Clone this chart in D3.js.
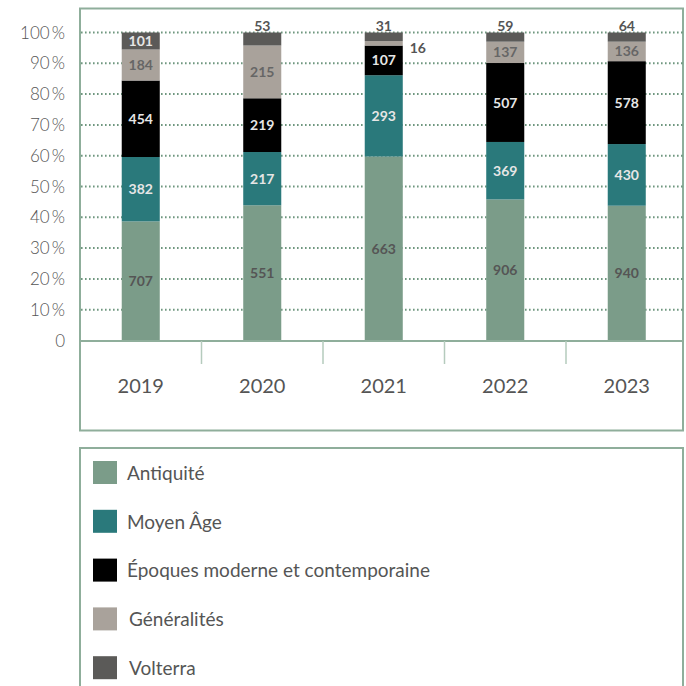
<!DOCTYPE html>
<html>
<head>
<meta charset="utf-8">
<script src="https://cdn.jsdelivr.net/npm/d3@7"></script>
<style>
  body { margin: 0; background: #fff; }
  text { font-family: Lato, "Open Sans", sans-serif; }
</style>
</head>
<body>
<script>
// data
var years = ["2019", "2020", "2021", "2022", "2023"];
var series = ["Antiquité", "Moyen Âge", "Époques moderne et contemporaine", "Généralités", "Volterra"];
var antiquite = [707, 551, 663, 906, 940];
var moyenAge = [382, 217, 293, 369, 430];
var epoques = [454, 219, 107, 507, 578];
var generalites = [184, 215, 16, 137, 136];
var volterra = [101, 53, 31, 59, 64];
var yTicks = [0, 10, 20, 30, 40, 50, 60, 70, 80, 90, 100];

var colors = ["#7b9c89", "#2a797b", "#000000", "#a9a29b", "#5b5a58"];
var labelColors = ["#555555", "#e6e6e6", "#e6e6e6", "#666666", "#e6e6e6"];
var frameColor = "#8fae9b";

var width = 686, height = 686;

var svg = d3.select("body").append("svg")
    .attr("width", width)
    .attr("height", height);

var values = [antiquite, moyenAge, epoques, generalites, volterra];
var rows = years.map(function(y, i) {
    var r = {year: y};
    series.forEach(function(s, j) { r[s] = values[j][i]; });
    return r;
});

var stacked = d3.stack().keys(series).offset(d3.stackOffsetExpand)(rows);

var x = d3.scaleBand()
    .domain(years)
    .range([80, 687.5])
    .paddingInner(0.687)
    .paddingOuter(0.3435);

var y = d3.scaleLinear()
    .domain([0, 1])
    .range([340.5, 32.5]);

// chart frame
svg.append("rect")
    .attr("x", 80).attr("y", 8.5)
    .attr("width", 603).attr("height", 422)
    .attr("fill", "none")
    .attr("stroke", frameColor)
    .attr("stroke-width", 2);

// dotted gridlines
svg.append("g")
    .selectAll("line")
    .data(yTicks.filter(function(t) { return t > 0; }))
    .enter().append("line")
    .attr("x1", 81).attr("x2", 683)
    .attr("y1", function(d) { return y(d / 100); })
    .attr("y2", function(d) { return y(d / 100); })
    .attr("stroke", "#6f977f")
    .attr("stroke-width", 2)
    .attr("stroke-dasharray", "1.6,2.4");

// y labels
svg.append("g")
    .selectAll("text")
    .data(yTicks)
    .enter().append("text")
    .attr("x", 65)
    .attr("y", function(d) { return y(d / 100); })
    .attr("dy", "0.36em")
    .attr("text-anchor", "end")
    .attr("font-size", 17)
    .attr("font-weight", 300)
    .attr("fill", "#555")
    .text(function(d) { return d === 0 ? "0" : d + "\u2009%"; });

// bars
var layer = svg.append("g")
    .selectAll("g")
    .data(stacked)
    .enter().append("g")
    .attr("fill", function(d, i) { return colors[i]; });

layer.selectAll("rect")
    .data(function(d) { return d; })
    .enter().append("rect")
    .attr("x", function(d) { return x(d.data.year); })
    .attr("width", x.bandwidth())
    .attr("y", function(d) { return y(d[1]); })
    .attr("height", function(d) { return y(d[0]) - y(d[1]); });

// x axis line and separators
svg.append("line")
    .attr("x1", 80).attr("x2", 683)
    .attr("y1", 341).attr("y2", 341)
    .attr("stroke", frameColor)
    .attr("stroke-width", 2);

var gap = (x.step() - x.bandwidth()) / 2;
svg.append("g")
    .selectAll("line")
    .data(years.slice(1))
    .enter().append("line")
    .attr("x1", function(d) { return x(d) - gap; })
    .attr("x2", function(d) { return x(d) - gap; })
    .attr("y1", 341).attr("y2", 364)
    .attr("stroke", "#b5cbbd")
    .attr("stroke-width", 1.5);

svg.append("g")
    .selectAll("text")
    .data(years)
    .enter().append("text")
    .attr("x", function(d) { return x(d) + x.bandwidth() / 2; })
    .attr("y", 393)
    .attr("text-anchor", "middle")
    .attr("font-size", 20)
    .attr("fill", "#555")
    .text(function(d) { return d; });

// value labels
stacked.forEach(function(s, i) {
    s.forEach(function(d) {
        var val = d.data[s.key];
        var h = y(d[0]) - y(d[1]);
        var cx = x(d.data.year) + x.bandwidth() / 2;
        var t = svg.append("text")
            .attr("font-size", 14)
            .attr("font-weight", "bold")
            .attr("dy", "0.36em")
            .text(val);
        if (h >= 15) {
            t.attr("x", cx).attr("y", (y(d[0]) + y(d[1])) / 2)
             .attr("text-anchor", "middle")
             .attr("fill", labelColors[i]);
        } else if (i === series.length - 1) {
            t.attr("x", cx).attr("y", y(d[1]) - 7)
             .attr("text-anchor", "middle")
             .attr("fill", "#555");
        } else {
            t.attr("x", x(d.data.year) + x.bandwidth() + 7).attr("y", (y(d[0]) + y(d[1])) / 2 + 5)
             .attr("text-anchor", "start")
             .attr("fill", "#555");
        }
    });
});

// legend
svg.append("rect")
    .attr("x", 80).attr("y", 448)
    .attr("width", 603).attr("height", 260)
    .attr("fill", "none")
    .attr("stroke", frameColor)
    .attr("stroke-width", 2);

var legend = svg.append("g")
    .selectAll("g")
    .data(series)
    .enter().append("g")
    .attr("transform", function(d, i) { return "translate(93," + (461 + i * 48.8) + ")"; });

legend.append("rect")
    .attr("width", 24).attr("height", 23)
    .attr("fill", function(d, i) { return colors[i]; });

legend.append("text")
    .attr("x", function(d, i) { return i >= 3 ? 36 : 34; })
    .attr("y", 12)
    .attr("dy", "0.36em")
    .attr("font-size", 19)
    .attr("fill", "#555")
    .text(function(d) { return d; });
</script>
</body>
</html>
